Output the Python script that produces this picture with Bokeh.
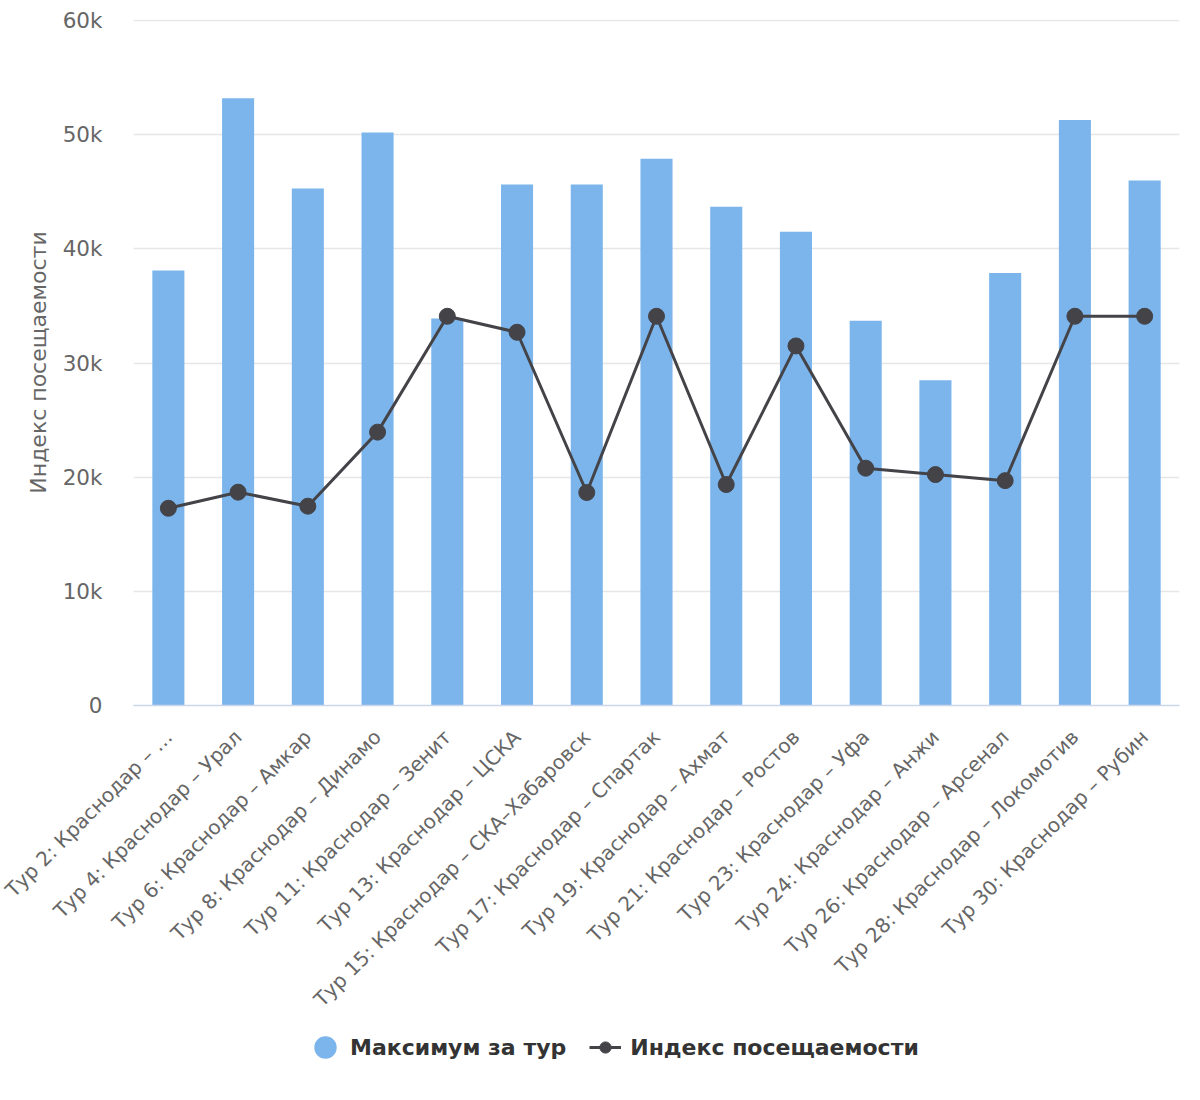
from bokeh.plotting import figure
from bokeh.models import FactorRange, Range1d, FixedTicker, Legend, LegendItem, ColumnDataSource
from bokeh.layouts import column
from bokeh.embed import file_html
from bokeh.resources import INLINE
import math

categories = [
    "Тур 2: Краснодар – …",
    "Тур 4: Краснодар – Урал",
    "Тур 6: Краснодар – Амкар",
    "Тур 8: Краснодар – Динамо",
    "Тур 11: Краснодар – Зенит",
    "Тур 13: Краснодар – ЦСКА",
    "Тур 15: Краснодар – СКА–Хабаровск",
    "Тур 17: Краснодар – Спартак",
    "Тур 19: Краснодар – Ахмат",
    "Тур 21: Краснодар – Ростов",
    "Тур 23: Краснодар – Уфа",
    "Тур 24: Краснодар – Анжи",
    "Тур 26: Краснодар – Арсенал",
    "Тур 28: Краснодар – Локомотив",
    "Тур 30: Краснодар – Рубин",
]
max_per_round = [38100, 53200, 45300, 50200, 33900, 45650, 45650, 47900,
                 43700, 41500, 33700, 28500, 37900, 51300, 46000]
attendance_index = [17280, 18690, 17460, 23950, 34100, 32700, 18660, 34100,
                    19360, 31500, 20790, 20230, 19700, 34100, 34100]
y_ticks = [0, 10000, 20000, 30000, 40000, 50000, 60000]
y_tick_labels = ["0", "10k", "20k", "30k", "40k", "50k", "60k"]
series_names = ["Максимум за тур", "Индекс посещаемости"]

FONT = "DejaVu Sans"
BAR_COLOR = "#7cb5ec"
LINE_COLOR = "#434348"

src = ColumnDataSource(dict(cat=categories, bar=max_per_round, line=attendance_index))

p = figure(
    width=1184, height=1023,
    x_range=FactorRange(*categories, range_padding=0),
    y_range=Range1d(0, 60100),
    output_backend="svg", toolbar_location=None,
    min_border_left=133, min_border_right=5, min_border_top=19, min_border_bottom=318,
)
p.outline_line_color = None
p.background_fill_color = "white"
p.border_fill_color = "white"

p.vbar(x="cat", top="bar", width=0.46, source=src, color=BAR_COLOR, line_color=None)
p.line(x="cat", y="line", source=src, line_color=LINE_COLOR, line_width=3)
p.scatter(x="cat", y="line", source=src, marker="circle", size=16,
          fill_color=LINE_COLOR, line_color=LINE_COLOR)

# grid
p.xgrid.grid_line_color = None
p.ygrid.grid_line_color = "#e6e6e6"
p.ygrid.grid_line_width = 1.5
p.ygrid.ticker = FixedTicker(ticks=y_ticks)

# y axis
yax = p.yaxis[0]
yax.ticker = FixedTicker(ticks=y_ticks)
yax.major_label_overrides = {t: l for t, l in zip(y_ticks, y_tick_labels)}
yax.axis_line_color = None
yax.major_tick_line_color = None
yax.minor_tick_line_color = None
yax.major_label_text_font = FONT
yax.major_label_text_font_size = "21.5px"
yax.major_label_text_color = "#666666"
yax.major_label_standoff = 25
yax.axis_label = "Индекс посещаемости"
yax.axis_label_text_font = FONT
yax.axis_label_text_font_size = "22px"
yax.axis_label_text_font_style = "normal"
yax.axis_label_text_color = "#666666"
yax.axis_label_standoff = 9

# x axis
xax = p.xaxis[0]
xax.axis_line_color = "#ccd6eb"
xax.axis_line_width = 1.5
xax.major_tick_line_color = None
xax.minor_tick_line_color = None
xax.major_label_orientation = math.pi / 4
xax.major_label_text_font = FONT
xax.major_label_text_font_size = "20px"
xax.major_label_text_color = "#666666"
xax.major_label_standoff = 22

# legend strip (separate small figure under the chart)
lf = figure(
    width=1184, height=61,
    x_range=Range1d(0, 1), y_range=Range1d(0, 1),
    output_backend="svg", toolbar_location=None,
    min_border_left=0, min_border_right=0, min_border_top=0, min_border_bottom=0,
)
lf.outline_line_color = None
lf.axis.visible = False
lf.grid.visible = False
lf.border_fill_color = "white"
lf.background_fill_color = "white"

off = ColumnDataSource(dict(x=[-5, -4], y=[-5, -5]))
e = lf.ellipse(x="x", y="y", width=20, height=20, width_units="screen", height_units="screen",
               source=off, fill_color=BAR_COLOR, line_color=None)
l2 = lf.line(x="x", y="y", source=off, line_color=LINE_COLOR, line_width=3)
s2 = lf.scatter(x="x", y="y", source=off, marker="circle", size=12,
                fill_color=LINE_COLOR, line_color=LINE_COLOR)

legend = Legend(
    items=[
        LegendItem(label=series_names[0], renderers=[e]),
        LegendItem(label=series_names[1], renderers=[l2, s2]),
    ],
    orientation="horizontal",
    location=(176, 23),
    label_text_font=FONT,
    label_text_font_size="22px",
    label_text_font_style="bold",
    label_text_color="#333333",
    glyph_width=32, glyph_height=28,
    spacing=23, label_standoff=9,
    border_line_color=None, background_fill_alpha=0,
    padding=0, margin=0,
)
lf.add_layout(legend, "center")

layout = column(p, lf, spacing=0)
open("out.html", "w").write(file_html(layout, INLINE))
